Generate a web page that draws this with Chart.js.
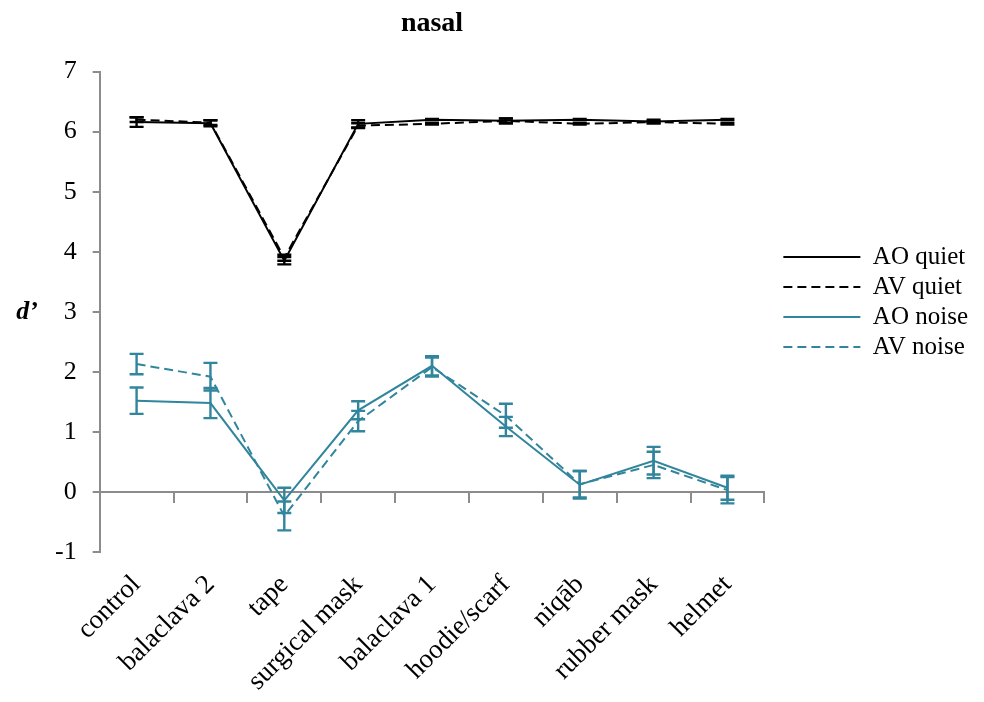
<!DOCTYPE html>
<html>
<head>
<meta charset="utf-8">
<title>nasal</title>
<script src="https://cdn.jsdelivr.net/npm/chart.js@4/dist/chart.umd.min.js"></script>
<style>
  html, body { margin: 0; padding: 0; background: #fff; }
  canvas { display: block; }
</style>
</head>
<body>
<canvas id="chart" width="984" height="702"></canvas>
<script>
const conditions = ['control', 'balaclava 2', 'tape', 'surgical mask', 'balaclava 1', 'hoodie/scarf', 'niqāb', 'rubber mask', 'helmet'];

// d' per condition, with half-width of the error bar
const aoQuiet    = [6.16, 6.14, 3.85, 6.13, 6.20, 6.18, 6.20, 6.17, 6.20];
const aoQuietErr = [0.08, 0.05, 0.06, 0.06, 0.01, 0.04, 0.01, 0.03, 0.01];
const avQuiet    = [6.20, 6.15, 3.90, 6.10, 6.13, 6.18, 6.13, 6.16, 6.13];
const avQuietErr = [0.04, 0.04, 0.05, 0.04, 0.01, 0.04, 0.01, 0.02, 0.01];

const aoNoise    = [1.52, 1.48, -0.14, 1.36, 2.10, 1.09, 0.12, 0.52, 0.07];
const aoNoiseErr = [0.22, 0.25, 0.21, 0.15, 0.16, 0.16, 0.23, 0.23, 0.20];
const avNoise    = [2.13, 1.92, -0.40, 1.18, 2.08, 1.27, 0.13, 0.45, 0.03];
const avNoiseErr = [0.17, 0.23, 0.24, 0.17, 0.16, 0.20, 0.22, 0.22, 0.22];

const yTicks = [-1, 0, 1, 2, 3, 4, 5, 6, 7];

const serif = 'Liberation Serif, Times New Roman, serif';
const axisGrey = '#8c8c8c';
const teal = '#31859c';
const dash = [9, 5];

// vertical error bars with caps, positioned through the chart scales
const errorBars = {
    id: 'errorBars',
    afterDatasetsDraw(chart) {
        const ctx = chart.ctx;
        const yScale = chart.scales.y;
        chart.data.datasets.forEach((ds, i) => {
            if (!ds.errors) return;
            const meta = chart.getDatasetMeta(i);
            ctx.save();
            ctx.strokeStyle = ds.borderColor;
            ctx.lineWidth = 2.4;
            ctx.setLineDash([]);
            meta.data.forEach((pt, j) => {
                const v = ds.data[j], e = ds.errors[j];
                if (!e) return;
                const top = yScale.getPixelForValue(v + e);
                const bottom = yScale.getPixelForValue(v - e);
                ctx.beginPath();
                ctx.moveTo(pt.x, top); ctx.lineTo(pt.x, bottom);
                ctx.moveTo(pt.x - 7, top); ctx.lineTo(pt.x + 7, top);
                ctx.moveTo(pt.x - 7, bottom); ctx.lineTo(pt.x + 7, bottom);
                ctx.stroke();
            });
            ctx.restore();
        });
    }
};

// horizontal axis label on the left of the y axis
const yAxisLabel = {
    id: 'yAxisLabel',
    afterDraw(chart) {
        const { ctx, chartArea } = chart;
        ctx.save();
        ctx.font = 'italic bold 26px ' + serif;
        ctx.fillStyle = '#000';
        ctx.textAlign = 'center';
        ctx.textBaseline = 'middle';
        ctx.fillText('d’', 27, (chartArea.top + chartArea.bottom) / 2);
        ctx.restore();
    }
};

// the rotated category labels run on into the bottom padding, so widen their clip box
const labelRoom = {
    id: 'labelRoom',
    afterLayout(chart) {
        chart.scales.x2.bottom = chart.height;
    }
};

new Chart(document.getElementById('chart'), {
    type: 'line',
    data: {
        labels: conditions,
        datasets: [
            { label: 'AO quiet', data: aoQuiet, errors: aoQuietErr, borderColor: '#000', borderWidth: 2 },
            { label: 'AV quiet', data: avQuiet, errors: avQuietErr, borderColor: '#000', borderWidth: 2, borderDash: dash },
            { label: 'AO noise', data: aoNoise, errors: aoNoiseErr, borderColor: teal, borderWidth: 2 },
            { label: 'AV noise', data: avNoise, errors: avNoiseErr, borderColor: teal, borderWidth: 2, borderDash: dash }
        ]
    },
    options: {
        responsive: false,
        animation: false,
        elements: {
            point: { radius: 0, hoverRadius: 0 },
            line: { tension: 0, fill: false }
        },
        layout: { padding: { left: 39, right: 6, top: 0, bottom: 98 } },
        plugins: {
            title: {
                display: true,
                text: 'nasal',
                fullSize: false,
                color: '#000',
                font: { family: serif, size: 28, weight: 'bold' },
                padding: { top: 7, bottom: 31 }
            },
            legend: {
                position: 'right',
                maxWidth: 210,
                labels: {
                    usePointStyle: true,
                    pointStyle: 'line',
                    pointStyleWidth: 77,
                    color: '#000',
                    font: { family: serif, size: 25 },
                    padding: 5,
                    generateLabels(chart) {
                        const items = Chart.defaults.plugins.legend.labels.generateLabels(chart);
                        items.forEach(item => {
                            const ds = chart.data.datasets[item.datasetIndex];
                            item.lineDash = ds.borderDash || [];
                            item.lineWidth = ds.borderWidth;
                            item.strokeStyle = ds.borderColor;
                        });
                        return items;
                    }
                }
            },
            tooltip: { enabled: false }
        },
        scales: {
            x: {
                type: 'category',
                position: { y: 0 },
                offset: true,
                grid: { offset: true, drawOnChartArea: false, tickLength: 10, color: axisGrey, lineWidth: 2 },
                border: { color: axisGrey, width: 2 },
                ticks: { display: false }
            },
            x2: {
                type: 'category',
                axis: 'x',
                position: 'bottom',
                offset: true,
                grid: { display: false },
                border: { display: false },
                ticks: {
                    minRotation: 45,
                    maxRotation: 45,
                    autoSkip: false,
                    color: '#000',
                    font: { family: serif, size: 27 },
                    padding: 9
                },
                afterFit(scale) {
                    scale.height = 52;
                    scale.paddingLeft = 0;
                    scale.paddingRight = 0;
                }
            },
            // empty gap between the plot and the legend
            gap: {
                type: 'linear',
                axis: 'y',
                position: 'right',
                grid: { display: false },
                border: { display: false },
                ticks: { display: false },
                afterFit(scale) { scale.width = 14; }
            },
            y: {
                min: yTicks[0],
                max: yTicks[yTicks.length - 1],
                afterBuildTicks: scale => { scale.ticks = yTicks.map(v => ({ value: v })); },
                ticks: { color: '#000', font: { family: serif, size: 26 }, padding: 16 },
                grid: { drawOnChartArea: false, tickLength: 7, color: axisGrey, lineWidth: 2 },
                border: { color: axisGrey, width: 2 }
            }
        }
    },
    plugins: [errorBars, yAxisLabel, labelRoom]
});
</script>
</body>
</html>
